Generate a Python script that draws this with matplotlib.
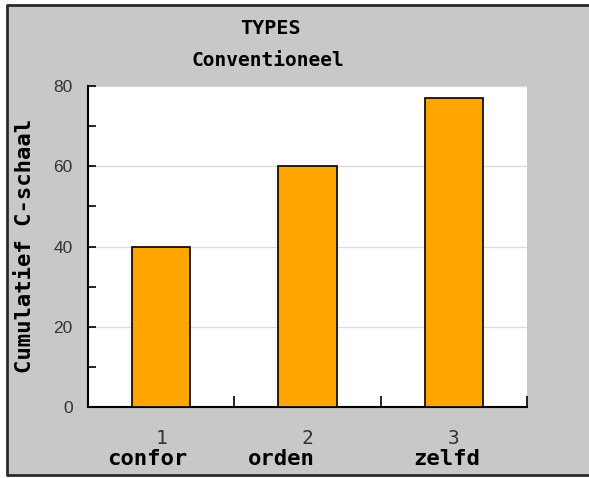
import numpy as np
import matplotlib
matplotlib.use("Agg")
import matplotlib.pyplot as plt
from matplotlib.patches import Rectangle
from matplotlib.lines import Line2D

# data
codes = ["1", "2", "3"]
names = ["confor", "orden", "zelfd"]
values = [40, 60, 77]
title_lines = ["TYPES", "Conventioneel"]
ylabel = "Cumulatief C-schaal"

# small horizontal shifts (pixels) of the category names, as in the original
name_shift = [-14, -26, -7]

W, H = 589, 478
fig = plt.figure(figsize=(W / 100, H / 100), dpi=100, facecolor="white")

# grey window with a dark frame on left, top and bottom
x0, y0, y1 = 7 / W, 1 - 475 / H, 1 - 5 / H
fig.add_artist(Rectangle((x0, y0), 1.1 - x0, y1 - y0, transform=fig.transFigure,
                         facecolor="#c8c8c8", edgecolor="none", zorder=-5))
fig.add_artist(Line2D([1.1, x0, x0, 1.1], [y1, y1, y0, y0],
                      transform=fig.transFigure, color="#2a2a2a",
                      linewidth=2, zorder=-4))

ax = fig.add_axes([88 / W, 1 - 407 / H, (527 - 88) / W, (407 - 86) / H])
ax.set_facecolor("white")

x = np.arange(len(values))
ax.bar(x, values, width=0.4, color="#ffa500", edgecolor="black",
       linewidth=1.2, zorder=3)

ax.set_xlim(-0.5, len(values) - 0.5)
ax.set_ylim(0, 80)

# grid
ax.set_yticks([0, 20, 40, 60, 80])
ax.set_yticks([10, 30, 50, 70], minor=True)
ax.yaxis.grid(True, which="major", color="#dcdcdc", linewidth=1, zorder=0)
ax.set_axisbelow(True)

for s in ["top", "right"]:
    ax.spines[s].set_visible(False)
for s in ["left", "bottom"]:
    ax.spines[s].set_linewidth(1.5)
    ax.spines[s].set_color("black")

ax.tick_params(axis="y", which="both", direction="in", length=6, width=1.2,
               color="black")
ax.tick_params(axis="y", which="major", pad=11, labelsize=12.5,
               labelcolor="#333333")
for lab in ax.get_yticklabels():
    lab.set_fontfamily("Liberation Sans")

# x: group separators as inward ticks, labels at bar centres
ax.set_xticks(x)
ax.set_xticklabels(codes, fontfamily="DejaVu Sans Mono", fontsize=14,
                   color="#333333")
ax.set_xticks(np.arange(len(values)) + 0.5, minor=True)
ax.tick_params(axis="x", which="major", length=0, pad=16)
ax.tick_params(axis="x", which="minor", direction="in", length=8, width=1.2,
               color="black")

trans = ax.get_xaxis_transform()
for i, nm in enumerate(names):
    ax.annotate(nm, (x[i], 0), xycoords=trans,
                xytext=(name_shift[i] * 0.72, -58 * 0.72),
                textcoords="offset points", ha="center", va="baseline",
                fontfamily="DejaVu Sans Mono", fontweight="bold",
                fontsize=16, color="black", annotation_clip=False)

fig.text(270 / W, 1 - 28 / H, title_lines[0], ha="center", va="center",
         fontfamily="DejaVu Sans Mono", fontweight="bold", fontsize=14.5)
fig.text(268 / W, 1 - 61 / H, title_lines[1], ha="center", va="center",
         fontfamily="DejaVu Sans Mono", fontweight="bold", fontsize=14)
fig.text(25 / W, 1 - 246 / H, ylabel, ha="center", va="center",
         rotation=90, fontfamily="DejaVu Sans Mono", fontweight="bold",
         fontsize=16)

fig.savefig("out.png", dpi=100, facecolor=fig.get_facecolor())
